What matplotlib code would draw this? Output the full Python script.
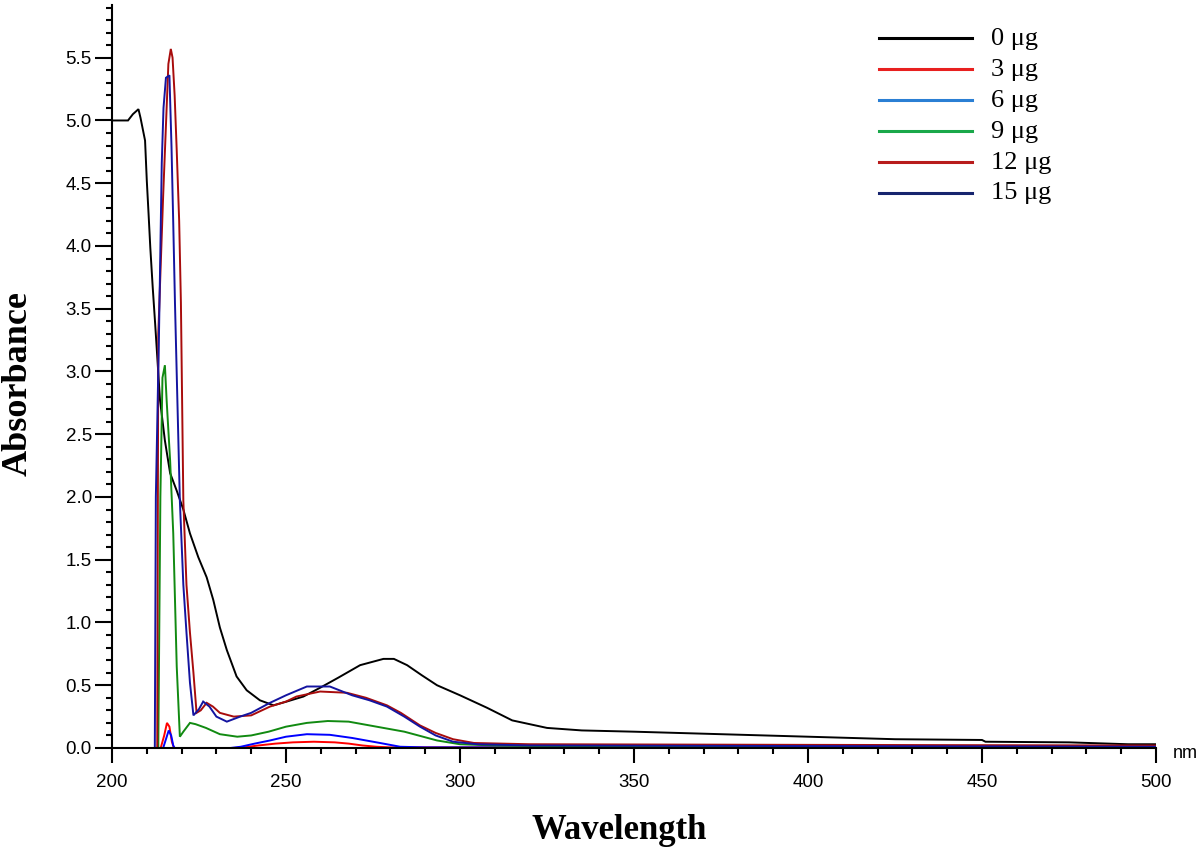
import matplotlib
matplotlib.use("Agg")
import matplotlib.pyplot as plt
from matplotlib.lines import Line2D
from matplotlib.ticker import MultipleLocator, FormatStrFormatter

# ---------------- data ----------------
labels = ["0 \u03bcg", "3 \u03bcg", "6 \u03bcg", "9 \u03bcg", "12 \u03bcg", "15 \u03bcg"]

wl_0 = [200, 204.6, 206, 207.6, 208.2, 209.5, 210, 210.5, 211, 211.7, 212.4, 213.8, 215.2,
        216.7, 218.6, 220.5, 222.4, 224.8, 227.2, 229.1, 231, 233, 235.8, 238.7, 242.5,
        246.4, 250.2, 255, 259.8, 265, 271.3, 278, 281, 284.8, 289, 293.4, 300, 307.8,
        315, 325, 335, 350, 375, 400, 425, 450, 451, 475, 492, 500]
ab_0 = [5.0, 5.0, 5.05, 5.09, 5.02, 4.84, 4.52, 4.26, 3.99, 3.67, 3.38, 2.77, 2.45,
        2.19, 2.05, 1.9, 1.71, 1.52, 1.36, 1.18, 0.96, 0.78, 0.57, 0.46, 0.38,
        0.34, 0.37, 0.41, 0.48, 0.56, 0.66, 0.71, 0.71, 0.66, 0.58, 0.50, 0.42, 0.32,
        0.22, 0.16, 0.14, 0.13, 0.11, 0.09, 0.07, 0.064, 0.05, 0.045, 0.03, 0.03]

wl_3 = [212, 214, 215, 215.8, 216.5, 217.2, 217.8, 235, 238, 242, 247, 252, 258, 264,
        268, 272, 276, 280, 300, 500]
ab_3 = [0, 0, 0.1, 0.2, 0.17, 0.05, 0, 0, 0.005, 0.02, 0.035, 0.045, 0.05, 0.045,
        0.035, 0.02, 0.01, 0.005, 0.005, 0.005]

wl_6 = [212, 214.7, 215.5, 216.3, 217, 217.6, 218, 234, 237, 241, 245.4, 250, 256,
        262.6, 269, 273, 277, 282.8, 290, 500]
ab_6 = [0, 0, 0.07, 0.14, 0.1, 0.02, 0, 0, 0.01, 0.035, 0.06, 0.09, 0.11,
        0.105, 0.08, 0.06, 0.04, 0.01, 0.005, 0.005]

wl_9 = [213.3, 213.9, 214.5, 215.2, 215.7, 216.7, 217.6, 218.1, 218.6, 219.5, 220.5,
        222.4, 224, 227, 231, 236, 240, 245, 250, 256, 262, 268, 274, 284, 293.4, 300,
        310, 325, 500]
ab_9 = [0, 2.0, 2.95, 3.05, 2.77, 2.29, 1.71, 1.18, 0.65, 0.09, 0.13,
        0.2, 0.19, 0.16, 0.11, 0.09, 0.1, 0.13, 0.17, 0.2, 0.215, 0.21, 0.18, 0.13, 0.06, 0.03,
        0.02, 0.015, 0.01]

wl_12 = [213.0, 213.3, 214.7, 216.2, 216.9, 217.4, 218.0, 218.6, 219.3, 219.8, 220.5,
         221.4, 222.4, 223.4, 224.3, 225.5, 227.2, 229, 231, 235, 240, 245.4, 250, 253,
         259.8, 267.5, 273, 279, 283, 288.5, 293, 298, 304, 320, 400, 500]
ab_12 = [0, 3.3, 4.4, 5.45, 5.57, 5.5, 5.2, 4.76, 4.2, 3.55, 1.97,
         1.3, 0.92, 0.6, 0.28, 0.3, 0.36, 0.33, 0.28, 0.25, 0.26, 0.33, 0.37, 0.41,
         0.45, 0.44, 0.4, 0.34, 0.28, 0.18, 0.12, 0.07, 0.04, 0.03, 0.025, 0.02]

wl_15 = [212.3, 212.6, 213.5, 213.8, 214.3, 214.8, 215.5, 216.5, 217.1, 217.6, 218.1,
         219.5, 220.5, 221.4, 222.4, 223.4, 225, 226.2, 228, 230, 233, 236.8, 240, 245.4,
         250, 256, 262.6, 269, 274, 279, 284, 288.5, 293, 298, 305, 320, 500]
ab_15 = [0, 2.0, 3.3, 3.8, 4.66, 5.1, 5.34, 5.36, 4.79, 4.18, 3.54,
         1.97, 1.3, 0.92, 0.52, 0.26, 0.31, 0.37, 0.33, 0.25, 0.21, 0.25, 0.28, 0.36,
         0.42, 0.49, 0.49, 0.42, 0.38, 0.33, 0.25, 0.17, 0.1, 0.05, 0.03, 0.02, 0.01]

series_wl = [wl_0, wl_3, wl_6, wl_9, wl_12, wl_15]
series_ab = [ab_0, ab_3, ab_6, ab_9, ab_12, ab_15]
line_colors = ["#000000", "#ff0000", "#0000ff", "#118a11", "#a80c0c", "#1414a0"]
legend_colors = ["#000000", "#e8201f", "#2a7fd4", "#1aa84a", "#b81c1c", "#16246e"]

x_ticks = [200, 250, 300, 350, 400, 450, 500]

# ---------------- figure ----------------
fig = plt.figure(figsize=(12, 8.5), dpi=100)
ax = fig.add_axes([112 / 1200, 102 / 850, 1044 / 1200, 743 / 850])

for wl, ab, c in zip(series_wl, series_ab, line_colors):
    ax.plot(wl, ab, color=c, lw=1.4, solid_joinstyle="miter")

ax.set_xlim(200, 500)
ax.set_ylim(0, 5.92)

for s in ["top", "right"]:
    ax.spines[s].set_visible(False)
for s in ["left", "bottom"]:
    ax.spines[s].set_linewidth(1.5)

ax.set_xticks(x_ticks)
ax.xaxis.set_minor_locator(MultipleLocator(10))
ax.yaxis.set_major_locator(MultipleLocator(0.5))
ax.yaxis.set_minor_locator(MultipleLocator(0.1))
ax.yaxis.set_major_formatter(FormatStrFormatter("%.1f"))

ax.tick_params(axis="x", which="major", direction="out", length=11, width=1.5, pad=8,
               labelsize=13.5, labelfontfamily="Liberation Sans")
ax.tick_params(axis="x", which="minor", direction="out", length=4, width=1.5)
ax.tick_params(axis="y", which="major", direction="out", length=12.5, width=1.5, pad=2,
               labelsize=13.5, labelfontfamily="Liberation Sans")
ax.tick_params(axis="y", which="minor", direction="out", length=4, width=1.5)

ax.set_xlabel("Wavelength", fontfamily="Liberation Serif", fontweight="bold", fontsize=25)
ax.xaxis.label.set_va("baseline")
ax.xaxis.set_label_coords(0.486, -0.1225)
ax.set_ylabel("Absorbance", fontfamily="Liberation Serif", fontweight="bold", fontsize=26)
ax.yaxis.label.set_va("baseline")
ax.yaxis.set_label_coords(-(112 - 27) / 1044, 0.49)

ax.text(1.016, -0.008, "nm", transform=ax.transAxes, ha="left", va="center",
        fontfamily="Liberation Sans", fontsize=13)

# manual legend (figure coordinates)
row_y = [37.5, 69, 100, 130.5, 161.5, 192.5]
for lab, c, yy in zip(labels, legend_colors, row_y):
    fy = 1 - yy / 850
    fig.add_artist(Line2D([879 / 1200, 972 / 1200], [fy, fy], color=c, lw=2.2,
                          transform=fig.transFigure))
    fig.text(991 / 1200, fy - 1 / 850, lab, ha="left", va="center",
             fontfamily=["Liberation Serif", "DejaVu Serif"], fontsize=19)

fig.savefig("out.png", dpi=100)
